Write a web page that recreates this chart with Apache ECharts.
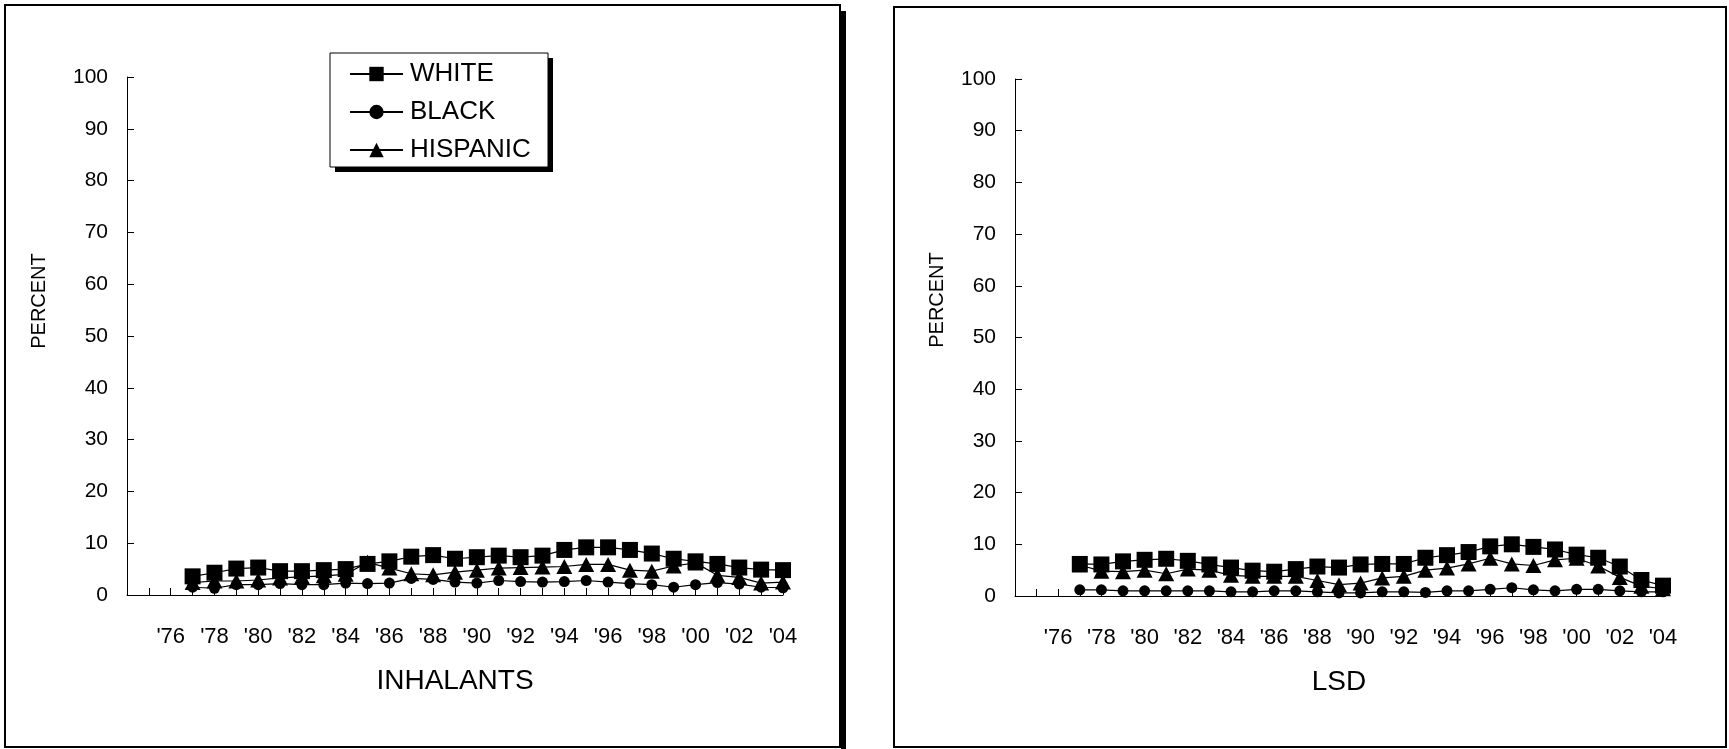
<!DOCTYPE html>
<html><head><meta charset="utf-8">
<script src="https://cdn.jsdelivr.net/npm/echarts@6/dist/echarts.min.js"></script>
<style>html,body{margin:0;padding:0;background:#fff}#c{width:1729px;height:749px}</style>
</head><body><div id="c"></div>
<script>
const years = ["'74","'75","'76","'77","'78","'79","'80","'81","'82","'83","'84","'85","'86","'87","'88","'89","'90","'91","'92","'93","'94","'95","'96","'97","'98","'99","'00","'01","'02","'03","'04"];
const yTicks = [0,10,20,30,40,50,60,70,80,90,100];
const seriesNames = ["WHITE","BLACK","HISPANIC"];
const panelTitles = ["INHALANTS","LSD"];
const yTitle = "PERCENT";

const inhalWhite = [null,null,null,3.6,4.3,5.1,5.3,4.6,4.6,4.8,5.0,6.0,6.5,7.4,7.7,7.0,7.3,7.6,7.3,7.6,8.7,9.2,9.2,8.7,8.0,7.0,6.5,6.0,5.3,4.9,4.8];
const inhalBlack = [null,null,null,1.5,1.3,2.0,2.0,2.2,2.0,2.0,2.3,2.2,2.3,3.2,3.0,2.5,2.3,2.8,2.6,2.5,2.6,2.8,2.5,2.2,2.0,1.5,2.0,2.4,2.1,1.5,1.4];
const inhalHisp  = [null,null,null,2.4,2.7,2.7,2.9,3.3,3.5,3.7,4.0,6.3,5.2,4.1,3.9,4.4,4.8,5.2,5.3,5.4,5.5,5.9,5.9,4.8,4.6,5.6,6.2,3.8,3.4,2.3,2.5];

const lsdWhite = [null,null,null,6.2,6.1,6.7,7.0,7.2,6.8,6.1,5.5,4.9,4.7,5.2,5.7,5.5,6.1,6.2,6.2,7.4,7.9,8.5,9.6,10.0,9.5,9.0,8.0,7.4,5.7,3.1,2.0];
const lsdBlack = [null,null,null,1.2,1.2,1.0,1.0,1.0,1.0,1.0,0.8,0.8,1.0,1.0,0.8,0.6,0.6,0.8,0.8,0.7,1.0,1.0,1.3,1.6,1.2,1.0,1.3,1.3,1.0,0.8,0.8];
const lsdHisp  = [null,null,null,6.0,4.8,4.7,5.0,4.3,5.2,5.0,4.0,3.8,3.8,3.8,3.0,2.2,2.5,3.5,3.8,5.0,5.4,6.2,7.3,6.2,5.9,7.0,7.3,5.8,3.6,1.9,1.4];

const FONT = "Liberation Sans, Arial, sans-serif";
const chart = echarts.init(document.getElementById('c'), null, {renderer:'canvas'});

function xAxis(gi, name){
  return {
    type:'category', gridIndex:gi, data:years, boundaryGap:false,
    axisLine:{lineStyle:{color:'#000',width:1}},
    axisTick:{show:true, inside:true, length:7, interval:0, lineStyle:{color:'#000'}},
    axisLabel:{interval:(i)=> i>=2 && i%2===0, color:'#000', fontSize:22, fontFamily:FONT, margin:31},
    name:name, nameLocation:'middle', nameGap:72,
    nameTextStyle:{color:'#000', fontSize:28, fontFamily:FONT},
    splitLine:{show:false}
  };
}
function yAxis(gi){
  return {
    type:'value', gridIndex:gi, min:yTicks[0], max:yTicks[yTicks.length-1], interval:10,
    axisLine:{show:true, lineStyle:{color:'#000',width:1}},
    axisTick:{show:true, inside:true, length:7, lineStyle:{color:'#000'}},
    axisLabel:{color:'#000', fontSize:21, fontFamily:FONT, margin:19},
    splitLine:{show:false}
  };
}
function mk(name, gi, data, symbol, size, z){
  return {
    name:name, type:'line', xAxisIndex:gi, yAxisIndex:gi, data:data,
    symbol:symbol, symbolSize:size, showAllSymbol:true, connectNulls:false,
    lineStyle:{color:'#000', width:1.2}, itemStyle:{color:'#000', borderWidth:0},
    emphasis:{disabled:true}, animation:false, z:z
  };
}

chart.setOption({
  backgroundColor:'#fff',
  animation:false,
  graphic:[
    {type:'rect', shape:{x:841, y:11, width:5, height:740}, style:{fill:'#000'}, z:0},
    {type:'rect', shape:{x:5, y:5, width:835, height:742}, style:{fill:'none', stroke:'#000', lineWidth:2}, z:1},
    {type:'rect', shape:{x:894, y:7, width:832, height:740}, style:{fill:'none', stroke:'#000', lineWidth:2}, z:1},
    {type:'rect', shape:{x:335, y:58, width:218, height:114}, style:{fill:'#000'}, z:5},
    {type:'rect', shape:{x:330, y:53, width:218, height:114}, style:{fill:'#fff', stroke:'#000', lineWidth:1}, z:6},
    {type:'text', x:39, y:301, rotation:Math.PI/2, style:{text:yTitle, fill:'#000', font:'20px '+FONT, align:'center', verticalAlign:'middle'}, z:6},
    {type:'text', x:937, y:300, rotation:Math.PI/2, style:{text:yTitle, fill:'#000', font:'20px '+FONT, align:'center', verticalAlign:'middle'}, z:6}
  ],
  grid:[
    {left:127, top:77, width:656, height:518},
    {left:1015, top:79, width:648, height:517}
  ],
  xAxis:[xAxis(0, panelTitles[0]), xAxis(1, panelTitles[1])],
  yAxis:[yAxis(0), yAxis(1)],
  legend:{
    data:seriesNames, orient:'vertical', left:349, top:61, z:20,
    padding:0, itemGap:12, itemWidth:53, itemHeight:18,
    textStyle:{color:'#000', fontSize:26, fontFamily:FONT, padding:[0,0,0,2]},
    selectedMode:false, inactiveColor:'#000'
  },
  series:[
    mk(seriesNames[1], 0, inhalBlack, 'circle', 11, 2),
    mk(seriesNames[2], 0, inhalHisp, 'triangle', [16,15], 3),
    mk(seriesNames[0], 0, inhalWhite, 'rect', 16, 4),
    mk(seriesNames[1], 1, lsdBlack, 'circle', 11, 2),
    mk(seriesNames[2], 1, lsdHisp, 'triangle', [16,15], 3),
    mk(seriesNames[0], 1, lsdWhite, 'rect', 16, 4)
  ]
});
</script></body></html>
